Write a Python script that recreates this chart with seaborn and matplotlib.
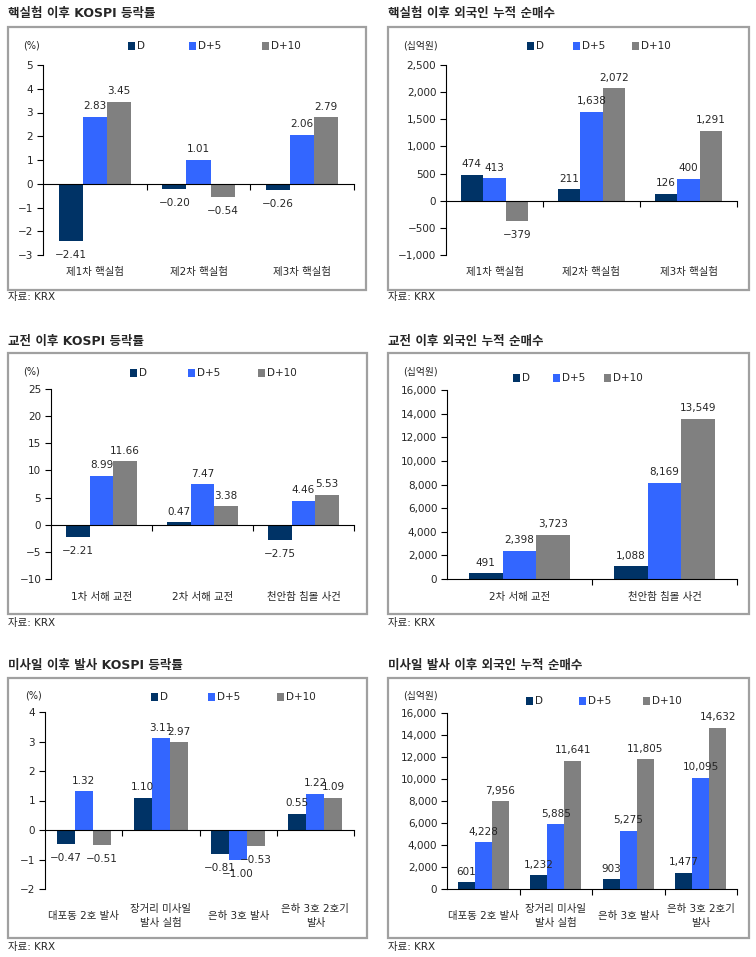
import numpy as np
import pandas as pd
import matplotlib
matplotlib.use("Agg")
import matplotlib.pyplot as plt
import seaborn as sns
from matplotlib.patches import Rectangle
from matplotlib.ticker import FuncFormatter
from matplotlib.transforms import blended_transform_factory

# ---------------- data ----------------
series_names = ["D", "D+5", "D+10"]

p1_title = "핵실험 이후 KOSPI 등락률"
p1_cats = ["제1차 핵실험", "제2차 핵실험", "제3차 핵실험"]
p1_d = [-2.41, -0.20, -0.26]
p1_d5 = [2.83, 1.01, 2.06]
p1_d10 = [3.45, -0.54, 2.79]

p2_title = "핵실험 이후 외국인 누적 순매수"
p2_cats = ["제1차 핵실험", "제2차 핵실험", "제3차 핵실험"]
p2_d = [474, 211, 126]
p2_d5 = [413, 1638, 400]
p2_d10 = [-379, 2072, 1291]

p3_title = "교전 이후 KOSPI 등락률"
p3_cats = ["1차 서해 교전", "2차 서해 교전", "천안함 침몰 사건"]
p3_d = [-2.21, 0.47, -2.75]
p3_d5 = [8.99, 7.47, 4.46]
p3_d10 = [11.66, 3.38, 5.53]

p4_title = "교전 이후 외국인 누적 순매수"
p4_cats = ["2차 서해 교전", "천안함 침몰 사건"]
p4_d = [491, 1088]
p4_d5 = [2398, 8169]
p4_d10 = [3723, 13549]

p5_title = "미사일 이후 발사 KOSPI 등락률"
p5_cats = ["대포동 2호 발사", "장거리 미사일\n발사 실험", "은하 3호 발사", "은하 3호 2호기\n발사"]
p5_d = [-0.47, 1.10, -0.81, 0.55]
p5_d5 = [1.32, 3.11, -1.00, 1.22]
p5_d10 = [-0.51, 2.97, -0.53, 1.09]

p6_title = "미사일 발사 이후 외국인 누적 순매수"
p6_cats = ["대포동 2호 발사", "장거리 미사일\n발사 실험", "은하 3호 발사", "은하 3호 2호기\n발사"]
p6_d = [601, 1232, 903, 1477]
p6_d5 = [4228, 5885, 5275, 10095]
p6_d10 = [7956, 11641, 11805, 14632]

source_text = "자료: KRX"

# ---------------- style ----------------
sns.set_style("white")
plt.rcParams["font.family"] = ["DejaVu Sans", "Noto Sans CJK KR"]
plt.rcParams["axes.unicode_minus"] = True
colors = ["#003366", "#3366FF", "#808080"]
FS = 7.5

W, H = 756, 957
fig = plt.figure(figsize=(W / 100, H / 100), dpi=100)
fig.patch.set_facecolor("white")


def fy(py):
    return 1 - py / H


def fmt_dec(v):
    return f"{v:.2f}".replace("-", "\u2212")


def fmt_int(v):
    return f"{v:,.0f}".replace("-", "\u2212")


def panel(rect, cats, d, d5, d10, ylim, ystep, labfmt, tickfmt,
          title, tx, ty, box, unit, ux, uy, leg_xs, leg_y, cat_y, src_y):
    l, t, r, b = rect
    ax = fig.add_axes([l / W, fy(b), (r - l) / W, (b - t) / H])
    n = len(cats)
    df = pd.DataFrame({
        "cat": cats * 3,
        "series": [s for s in series_names for _ in range(n)],
        "value": d + d5 + d10,
    })
    sns.barplot(data=df, x="cat", y="value", hue="series", hue_order=series_names,
                palette=colors, saturation=1, width=0.7, linewidth=0,
                errorbar=None, legend=False, ax=ax)
    for cont, vals in zip(ax.containers, [d, d5, d10]):
        ax.bar_label(cont, labels=[labfmt(v) if v >= 0 else "" for v in vals],
                     padding=4, fontsize=FS)
        ax.bar_label(cont, labels=[labfmt(v) if v < 0 else "" for v in vals],
                     padding=6.5, fontsize=FS)
    ax.set_ylim(*ylim)
    ax.set_xlim(-0.5, n - 0.5)
    ax.set_yticks(np.arange(ylim[0], ylim[1] + ystep / 2, ystep))
    ax.yaxis.set_major_formatter(FuncFormatter(lambda v, p: tickfmt(v)))
    ax.set_xticks(np.arange(0.5, n, 1.0))
    ax.set_xticklabels([])
    ax.set_xlabel("")
    ax.set_ylabel("")
    for s in ["top", "right"]:
        ax.spines[s].set_visible(False)
    ax.spines["bottom"].set_position(("data", 0))
    for s in ["left", "bottom"]:
        ax.spines[s].set_color("black")
        ax.spines[s].set_linewidth(0.8)
    ax.tick_params(axis="y", direction="out", length=4, width=0.8, color="black",
                   labelsize=FS, pad=3, left=True)
    ax.tick_params(axis="x", direction="out", length=4, width=0.8, color="black",
                   bottom=True)
    ax.grid(False)
    tr = blended_transform_factory(ax.transData, fig.transFigure)
    for i, c in enumerate(cats):
        ax.text(i, fy(cat_y), c, transform=tr, ha="center", va="center",
                fontsize=FS, multialignment="center", linespacing=1.5)
    # title, box, unit, legend, source
    fig.text(tx / W, fy(ty), title, fontsize=9, fontweight="bold",
             ha="left", va="center")
    bx0, by0, bx1, by1 = box
    fig.add_artist(Rectangle((bx0 / W, fy(by1)), (bx1 - bx0) / W, (by1 - by0) / H,
                             transform=fig.transFigure, fill=False,
                             edgecolor="#A0A0A0", linewidth=1.6))
    fig.text(ux / W, fy(uy), unit, fontsize=FS - 0.5, ha="left", va="center")
    for xs, name, col in zip(leg_xs, series_names, colors):
        fig.add_artist(Rectangle((xs / W, fy(leg_y + 4)), 7 / W, 8 / H,
                                 transform=fig.transFigure, facecolor=col,
                                 edgecolor="none"))
        fig.text((xs + 9) / W, fy(leg_y), name, fontsize=FS, ha="left", va="center")
    fig.text(bx0 / W, fy(src_y), source_text, fontsize=FS, ha="left", va="center")
    return ax


panel((43, 65, 354, 255), p1_cats, p1_d, p1_d5, p1_d10, (-3, 5), 1, fmt_dec,
      lambda v: f"{v:.0f}".replace("-", "\u2212"),
      p1_title, 8, 14, (8, 27, 366, 290), "(%)", 23, 46,
      [128, 189, 262], 46, 272, 297)

panel((446, 65, 737, 255), p2_cats, p2_d, p2_d5, p2_d10, (-1000, 2500), 500, fmt_int,
      fmt_int,
      p2_title, 388, 14, (388, 27, 749, 290), "(십억원)", 403, 46,
      [527, 573, 632], 46, 272, 297)

panel((51, 389, 354, 579), p3_cats, p3_d, p3_d5, p3_d10, (-10, 25), 5, fmt_dec,
      lambda v: f"{v:.0f}".replace("-", "\u2212"),
      p3_title, 8, 341, (8, 353, 367, 614), "(%)", 23, 372,
      [130, 188, 258], 373, 597, 623)

panel((447, 390, 737, 579), p4_cats, p4_d, p4_d5, p4_d10, (0, 16000), 2000, fmt_int,
      fmt_int,
      p4_title, 388, 341, (388, 353, 749, 614), "(십억원)", 403, 372,
      [513, 553, 604], 378, 597, 623)

panel((45, 712, 354, 889), p5_cats, p5_d, p5_d5, p5_d10, (-2, 4), 1, fmt_dec,
      lambda v: f"{v:.0f}".replace("-", "\u2212"),
      p5_title, 8, 665, (8, 678, 367, 938), "(%)", 25, 696,
      [151, 208, 277], 697, 916, 947)

panel((447, 713, 737, 889), p6_cats, p6_d, p6_d5, p6_d10, (0, 16000), 2000, fmt_int,
      fmt_int,
      p6_title, 388, 665, (388, 678, 749, 938), "(십억원)", 403, 695,
      [526, 579, 643], 701, 916, 947)

fig.savefig("out.png", dpi=100, facecolor="white")
